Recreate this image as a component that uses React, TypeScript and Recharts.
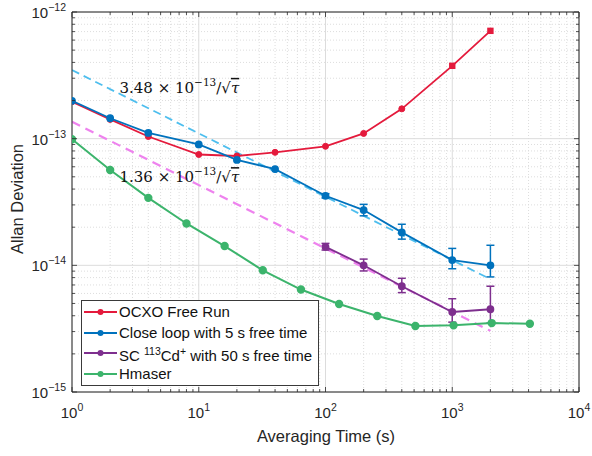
import React from 'react';
import {
  ComposedChart,
  Line,
  XAxis,
  YAxis,
  ErrorBar,
  CartesianGrid,
  ReferenceDot,
  Legend,
} from 'recharts';

// ---------- data ----------
const ocxoTau = [1, 2, 4, 10, 20, 40, 100, 200, 400, 1000, 2000];
const ocxoAdev = [1.96e-13, 1.42e-13, 1.04e-13, 7.5e-14, 7.3e-14, 7.8e-14, 8.7e-14, 1.1e-13, 1.72e-13, 3.76e-13, 7.1e-13];

const loopTau = [1, 2, 4, 10, 20, 40, 100, 200, 400, 1000, 2000];
const loopAdev = [1.99e-13, 1.45e-13, 1.11e-13, 9.0e-14, 6.8e-14, 5.75e-14, 3.54e-14, 2.73e-14, 1.82e-14, 1.1e-14, 1.0e-14];
const loopErrMinus = [null, null, null, null, null, null, 0.14e-14, 0.27e-14, 0.21e-14, 0.16e-14, 0.19e-14];
const loopErrPlus = [null, null, null, null, null, null, 0.14e-14, 0.3e-14, 0.29e-14, 0.26e-14, 0.44e-14];

const scTau = [100, 200, 400, 1000, 2000];
const scAdev = [1.4e-14, 1.0e-14, 6.84e-15, 4.28e-15, 4.5e-15];
const scErrMinus = [0.8e-15, 0.97e-15, 0.75e-15, 0.72e-15, 1.0e-15];
const scErrPlus = [0.9e-15, 1.2e-15, 1.06e-15, 1.17e-15, 2.34e-15];

const hmTau = [1, 2, 4, 8, 16, 32, 64, 128, 256, 512, 1024, 2048, 4096];
const hmAdev = [9.9e-14, 5.65e-14, 3.41e-14, 2.14e-14, 1.42e-14, 9.14e-15, 6.44e-15, 4.95e-15, 3.98e-15, 3.32e-15, 3.36e-15, 3.5e-15, 3.46e-15];

const fitTau = [1, 2000];
const fitLoop = [3.48e-13, 7.78e-15];
const fitSc = [1.36e-13, 3.04e-15];

const fitLoopLabel = { coef: '3.48', tau: 2.37, adev: 2.3e-13 };
const fitScLabel = { coef: '1.36', tau: 2.37, adev: 4.54e-14 };

const xMajor = [1, 10, 100, 1000, 10000];
const yMajor = [1e-15, 1e-14, 1e-13, 1e-12];
const minorMult = [2, 3, 4, 5, 6, 7, 8, 9];

const legendNames = ['OCXO Free Run', 'Close loop with 5 s free time', 'SC', 'Hmaser'];

// ---------- styling ----------
const C_RED = '#E41A3C';
const C_BLUE = '#0072BD';
const C_PURPLE = '#7E2F8E';
const C_GREEN = '#3CB46C';
const C_FIT1 = '#4DBEEE';
const C_FIT2 = '#EE82EE';
const AXIS = '#262626';
const SANS = '"Liberation Sans", Arial, Helvetica, sans-serif';
const SERIF = '"DejaVu Serif", "Liberation Serif", serif';

const xMinor: number[] = [];
xMajor.slice(0, -1).forEach((d) => minorMult.forEach((m) => xMinor.push(d * m)));
const yMinor: number[] = [];
yMajor.slice(0, -1).forEach((d) => minorMult.forEach((m) => yMinor.push(d * m)));
const xTicks = [...xMajor, ...xMinor].sort((a, b) => a - b);
const yTicks = [...yMajor, ...yMinor].sort((a, b) => a - b);

const zip = (xs: number[], ys: number[]) => xs.map((x, i) => ({ x, y: ys[i] }));
const ocxoData = zip(ocxoTau, ocxoAdev);
const loopData = loopTau.map((x, i) => ({
  x,
  y: loopAdev[i],
  err: loopErrMinus[i] == null ? undefined : [loopErrMinus[i], loopErrPlus[i]],
}));
const scData = scTau.map((x, i) => ({ x, y: scAdev[i], err: [scErrMinus[i], scErrPlus[i]] }));
const hmData = zip(hmTau, hmAdev);
const fit1Data = zip(fitTau, fitLoop);
const fit2Data = zip(fitTau, fitSc);

const isMajor = (v: number) => {
  const l = Math.log10(v);
  return Math.abs(l - Math.round(l)) < 1e-6;
};

const BottomTick = (p: any) => {
  const { x, y, payload } = p;
  const v = payload.value;
  const major = isMajor(v);
  return (
    <g>
      <line x1={x} x2={x} y1={y} y2={y - (major ? 5 : 3)} stroke={AXIS} strokeWidth={0.8} />
      {major && (
        <text x={x} y={y + 26} textAnchor="middle" fontSize={15} fontFamily={SANS} fill={AXIS}>
          10<tspan dy={-7} fontSize={10.5}>{Math.round(Math.log10(v))}</tspan>
        </text>
      )}
    </g>
  );
};

const TopTick = (p: any) => {
  const { x, y, payload } = p;
  const major = isMajor(payload.value);
  return <line x1={x} x2={x} y1={y} y2={y + (major ? 5 : 3)} stroke={AXIS} strokeWidth={0.8} />;
};

const LeftTick = (p: any) => {
  const { x, y, payload } = p;
  const v = payload.value;
  const major = isMajor(v);
  const e = Math.round(Math.log10(v));
  return (
    <g>
      <line x1={x} x2={x + (major ? 5 : 3)} y1={y} y2={y} stroke={AXIS} strokeWidth={0.8} />
      {major && (
        <text x={x - 6} y={y + 6} textAnchor="end" fontSize={15} fontFamily={SANS} fill={AXIS}>
          10<tspan dy={-7} fontSize={10.5}>{'\u2212' + Math.abs(e)}</tspan>
        </text>
      )}
    </g>
  );
};

const RightTick = (p: any) => {
  const { x, y, payload } = p;
  const major = isMajor(payload.value);
  return <line x1={x} x2={x - (major ? 5 : 3)} y1={y} y2={y} stroke={AXIS} strokeWidth={0.8} />;
};

const redDot = (p: any) => {
  const { cx, cy, payload, index } = p;
  if (payload.x >= 1000) {
    return <rect key={index} x={cx - 3.2} y={cy - 3.2} width={6.4} height={6.4} fill={C_RED} />;
  }
  return <circle key={index} cx={cx} cy={cy} r={3} fill={C_RED} stroke={C_RED} />;
};

const FitText = ({ cx, cy, coef }: any) => (
  <text x={cx} y={cy} fontSize={15} fontFamily={SERIF} fill="#111">
    {coef} × 10<tspan dy={-7} fontSize={10.5}>{'\u221213'}</tspan>
    <tspan dy={7}>/√</tspan>
    <tspan fontStyle="italic" textDecoration="overline">τ</tspan>
  </text>
);

const legendColors = [C_RED, C_BLUE, C_PURPLE, C_GREEN];

const LegendBox = () => (
  <div
    style={{
      border: '1px solid #3a3a3a',
      background: '#fff',
      padding: '1px 6px 1px 2px',
      fontFamily: SANS,
      fontSize: 15,
      color: '#111',
      lineHeight: '20px',
    }}
  >
    {legendNames.map((name, i) => (
      <div key={name} style={{ display: 'flex', alignItems: 'center', height: 20.5 }}>
        <svg width={33} height={10} style={{ marginRight: 2 }}>
          <line x1={0} x2={33} y1={5} y2={5} stroke={legendColors[i]} strokeWidth={2} />
          <circle cx={16.5} cy={5} r={3} fill={legendColors[i]} />
        </svg>
        {i === 2 ? (
          <span>
            SC <sup style={{ fontSize: 10.5, verticalAlign: 6 }}>113</sup>Cd
            <sup style={{ fontSize: 10.5, verticalAlign: 6 }}>+</sup> with 50 s free time
          </span>
        ) : (
          <span>{name}</span>
        )}
      </div>
    ))}
  </div>
);

export default function App() {
  return (
    <div style={{ position: 'absolute', left: 0, top: 0, width: 592, height: 456, background: '#fff' }}>
      <ComposedChart width={592} height={456} margin={{ top: 11, right: 12, bottom: 63, left: 71 }}>
        <CartesianGrid
          xAxisId="b"
          yAxisId="l"
          horizontalValues={yMinor}
          verticalValues={xMinor}
          stroke="#dddddd"
          strokeDasharray="1 2"
        />
        <CartesianGrid
          xAxisId="b"
          yAxisId="l"
          horizontalValues={yMajor}
          verticalValues={xMajor}
          stroke="#dcdcdc"
        />
        <XAxis
          xAxisId="b"
          type="number"
          dataKey="x"
          scale="log"
          domain={[1, 10000]}
          allowDataOverflow
          ticks={xTicks}
          interval={0}
          height={1}
          tickSize={0}
          tickMargin={0}
          tick={<BottomTick />}
          axisLine={{ stroke: AXIS }}
          orientation="bottom"
        />
        <XAxis
          xAxisId="t"
          type="number"
          dataKey="x"
          scale="log"
          domain={[1, 10000]}
          allowDataOverflow
          ticks={xTicks}
          interval={0}
          height={1}
          tickSize={0}
          tickMargin={0}
          tick={<TopTick />}
          axisLine={{ stroke: AXIS }}
          orientation="top"
        />
        <YAxis
          yAxisId="l"
          type="number"
          scale="log"
          domain={[1e-15, 1e-12]}
          allowDataOverflow
          ticks={yTicks}
          interval={0}
          width={1}
          tickSize={0}
          tickMargin={0}
          tick={<LeftTick />}
          axisLine={{ stroke: AXIS }}
          orientation="left"
        />
        <YAxis
          yAxisId="r"
          type="number"
          scale="log"
          domain={[1e-15, 1e-12]}
          allowDataOverflow
          ticks={yTicks}
          interval={0}
          width={1}
          tickSize={0}
          tickMargin={0}
          tick={<RightTick />}
          axisLine={{ stroke: AXIS }}
          orientation="right"
        />
        <Line
          xAxisId="b"
          yAxisId="l"
          data={fit1Data}
          dataKey="y"
          stroke={C_FIT1}
          strokeWidth={1.8}
          strokeDasharray="8 5"
          dot={false}
          isAnimationActive={false}
          legendType="none"
        />
        <Line
          xAxisId="b"
          yAxisId="l"
          data={fit2Data}
          dataKey="y"
          stroke={C_FIT2}
          strokeWidth={2.2}
          strokeDasharray="9 6"
          dot={false}
          isAnimationActive={false}
          legendType="none"
        />
        <Line
          xAxisId="b"
          yAxisId="l"
          data={ocxoData}
          dataKey="y"
          name={legendNames[0]}
          stroke={C_RED}
          strokeWidth={1.8}
          dot={redDot}
          isAnimationActive={false}
        />
        <Line
          xAxisId="b"
          yAxisId="l"
          data={loopData}
          dataKey="y"
          name={legendNames[1]}
          stroke={C_BLUE}
          strokeWidth={1.8}
          dot={{ r: 3, fill: C_BLUE, stroke: C_BLUE }}
          isAnimationActive={false}
        >
          <ErrorBar dataKey="err" direction="y" width={4} stroke={C_BLUE} strokeWidth={1.5} />
        </Line>
        <Line
          xAxisId="b"
          yAxisId="l"
          data={scData}
          dataKey="y"
          name={legendNames[2]}
          stroke={C_PURPLE}
          strokeWidth={1.8}
          dot={{ r: 3, fill: C_PURPLE, stroke: C_PURPLE }}
          isAnimationActive={false}
        >
          <ErrorBar dataKey="err" direction="y" width={4} stroke={C_PURPLE} strokeWidth={1.5} />
        </Line>
        <Line
          xAxisId="b"
          yAxisId="l"
          data={hmData}
          dataKey="y"
          name={legendNames[3]}
          stroke={C_GREEN}
          strokeWidth={2}
          dot={{ r: 3.2, fill: C_GREEN, stroke: C_GREEN }}
          isAnimationActive={false}
        />
        <ReferenceDot
          xAxisId="b"
          yAxisId="l"
          x={fitLoopLabel.tau}
          y={fitLoopLabel.adev}
          r={0}
          shape={(p: any) => <FitText cx={p.cx} cy={p.cy} coef={fitLoopLabel.coef} />}
        />
        <ReferenceDot
          xAxisId="b"
          yAxisId="l"
          x={fitScLabel.tau}
          y={fitScLabel.adev}
          r={0}
          shape={(p: any) => <FitText cx={p.cx} cy={p.cy} coef={fitScLabel.coef} />}
        />
        <Legend
          layout="horizontal"
          verticalAlign="middle"
          align="center"
          content={() => <LegendBox />}
          wrapperStyle={{ left: 81, top: 300, width: 'auto', height: 'auto' }}
        />
        <text x={326} y={442} textAnchor="middle" fontSize={16.5} fontFamily={SANS} fill={AXIS}>
          Averaging Time (s)
        </text>
        <text
          x={23}
          y={199}
          transform="rotate(-90 23 199)"
          textAnchor="middle"
          fontSize={16.5}
          fontFamily={SANS}
          fill={AXIS}
        >
          Allan Deviation
        </text>
      </ComposedChart>
    </div>
  );
}
